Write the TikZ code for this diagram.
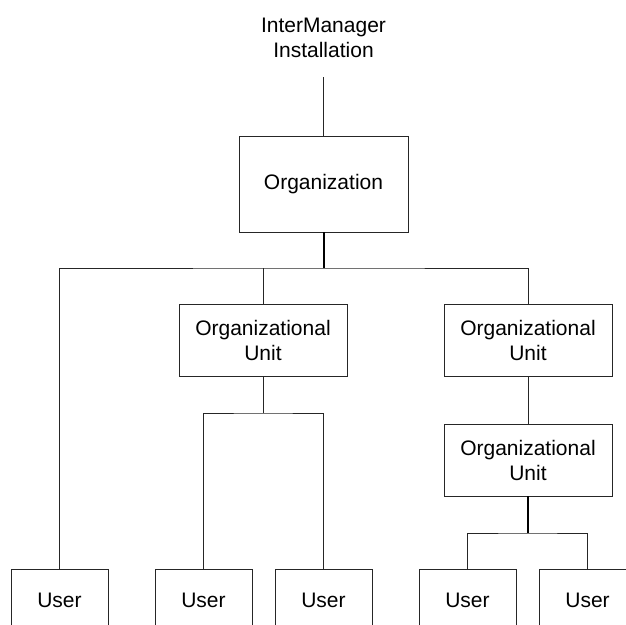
\documentclass[tikz,border=0pt]{standalone}
\usepackage{fontspec}
\setmainfont{Liberation Sans}
\begin{document}
\begin{tikzpicture}[x=1pt,y=-1pt,
  font=\fontsize{21}{25}\selectfont,
  line/.style={line width=0.9pt,draw=black!85},
  heavy/.style={line width=2pt,draw=black},
  orgbox/.style={draw=black!85,line width=0.9pt,inner sep=0pt,
    minimum width=169pt,minimum height=96pt},
  unitbox/.style={draw=black!85,line width=0.9pt,inner sep=0pt,align=center,
    minimum width=168pt,minimum height=72pt},
  userbox/.style={draw=black!85,line width=0.9pt,inner sep=0pt,
    minimum width=97pt,minimum height=62pt},
  title/.style={align=center,inner sep=0pt}]
\useasboundingbox (0,0) rectangle (626,624);
\clip (0,0) rectangle (626,624);

% top of the hierarchy
\node[title] (inst) at (323.5,38) {InterManager\\Installation};
\node[orgbox] (org) at (323.5,184) {Organization};

% organizational units
\node[unitbox] (ou1) at (263,340) {Organizational\\Unit};
\node[unitbox] (ou2) at (528,340.5) {Organizational\\Unit};
\node[unitbox] (ou3) at (528,460) {Organizational\\Unit};

% users (boxes run off the lower edge)
\node[userbox] (u1) at (59.5,600) {User};
\node[userbox] (u2) at (203.5,600) {User};
\node[userbox] (u3) at (323.5,600) {User};
\node[userbox] (u4) at (467.5,600) {User};
\node[userbox] (u5) at (587.5,600) {User};

% junction points
\coordinate (bus) at (323.5,268);
\coordinate (j1) at (263,413);
\coordinate (j2) at (528,533);

% connectors
\draw[line] ([yshift=-19pt]inst.south) -- (org.north);
\draw[heavy] (org.south) -- (bus);
\draw[line] (u1.north) |- (bus) -| (ou2.north);
\draw[line] (ou1.north) -- (ou1.north |- bus);
\draw[line] (ou1.south) -- (j1);
\draw[line] (u2.north) |- (j1) -| (u3.north);
\draw[line] (ou2.south) -- (ou3.north);
\draw[heavy] (ou3.south) -- (j2);
\draw[line] (u4.north) |- (j2) -| (u5.north);
\end{tikzpicture}
\end{document}
